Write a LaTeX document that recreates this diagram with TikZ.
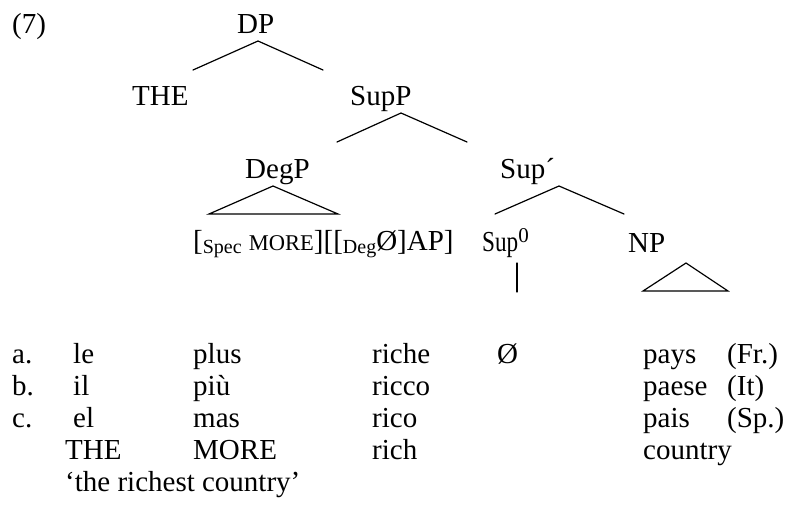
\documentclass[tikz,border=0pt]{standalone}
\usepackage{fontspec}
\setmainfont{Liberation Serif}
\usepackage{graphicx}
\tikzset{
  txt/.style={inner sep=0pt, anchor=base west, font=\fontsize{29}{32}\selectfont},
  branch/.style={line width=1.2pt, line cap=round}
}
\newcommand{\smallsub}[1]{\raisebox{-3pt}{\fontsize{20}{20}\selectfont #1}}
\begin{document}
\begin{tikzpicture}[x=1pt, y=-1pt]
\useasboundingbox (0,0) rectangle (789,504);
% tree labels
\node[txt] (ex) at (12,33) {(7)};
\node[txt] (dp) at (237,33) {DP};
\node[txt] (the) at (132,105) {THE};
\node[txt] (supp) at (350,105) {SupP};
\node[txt] (degp) at (245,178) {DegP};
\node[txt] (supbar) at (500,178) {Sup´};
\node[txt] (brk) at (193,250) {[\smallsub{Spec} {\fontsize{22.5}{22}\selectfont MORE}][[\smallsub{Deg}Ø]AP]};
\node[txt] (supz) at (482,251) {\scalebox{0.8}[1]{Sup}\raisebox{9pt}{\fontsize{21}{21}\selectfont 0}};
\node[txt] (np) at (628,252) {NP};
% branch points
\coordinate (dpA) at (258,41);
\coordinate (dpL) at (193,70);
\coordinate (dpR) at (323,70);
\coordinate (spA) at (401,113);
\coordinate (spL) at (337,142);
\coordinate (spR) at (467,142);
\coordinate (dgA) at (273,186);
\coordinate (dgL) at (209,214);
\coordinate (dgR) at (338,214);
\coordinate (sbA) at (559,186);
\coordinate (sbL) at (495,214);
\coordinate (sbR) at (624,214);
\coordinate (szT) at (517,263);
\coordinate (szB) at (517,292);
\coordinate (npA) at (686,263);
\coordinate (npL) at (643,291);
\coordinate (npR) at (728,291);
\draw[branch] (dpL) -- (dpA) -- (dpR);
\draw[branch] (spL) -- (spA) -- (spR);
\draw[branch] (dgL) -- (dgA) -- (dgR) -- cycle;
\draw[branch] (sbL) -- (sbA) -- (sbR);
\draw[branch] (szT) -- (szB);
\draw[branch] (npL) -- (npA) -- (npR) -- cycle;
% gloss rows
\node[txt] (ga) at (12,363) {a.};
\node[txt] (gb) at (12,395) {b.};
\node[txt] (gc) at (12,427) {c.};
\node[txt] (a1) at (73,363) {le};
\node[txt] (b1) at (73,395) {il};
\node[txt] (c1) at (73,427) {el};
\node[txt] (d1) at (65,459) {THE};
\node[txt] (tr) at (65,491) {‘the richest country’};
\node[txt] (a2) at (193,363) {plus};
\node[txt] (b2) at (193,395) {più};
\node[txt] (c2) at (193,427) {mas};
\node[txt] (d2) at (193,459) {MORE};
\node[txt] (a3) at (372,363) {riche};
\node[txt] (b3) at (372,395) {ricco};
\node[txt] (c3) at (372,427) {rico};
\node[txt] (d3) at (372,459) {rich};
\node[txt] (a4) at (497,363) {Ø};
\node[txt] (a5) at (643,363) {pays};
\node[txt] (b5) at (643,395) {paese};
\node[txt] (c5) at (643,427) {pais};
\node[txt] (d5) at (643,459) {country};
\node[txt] (a6) at (727,363) {(Fr.)};
\node[txt] (b6) at (727,395) {(It)};
\node[txt] (c6) at (727,427) {(Sp.)};
\end{tikzpicture}
\end{document}
